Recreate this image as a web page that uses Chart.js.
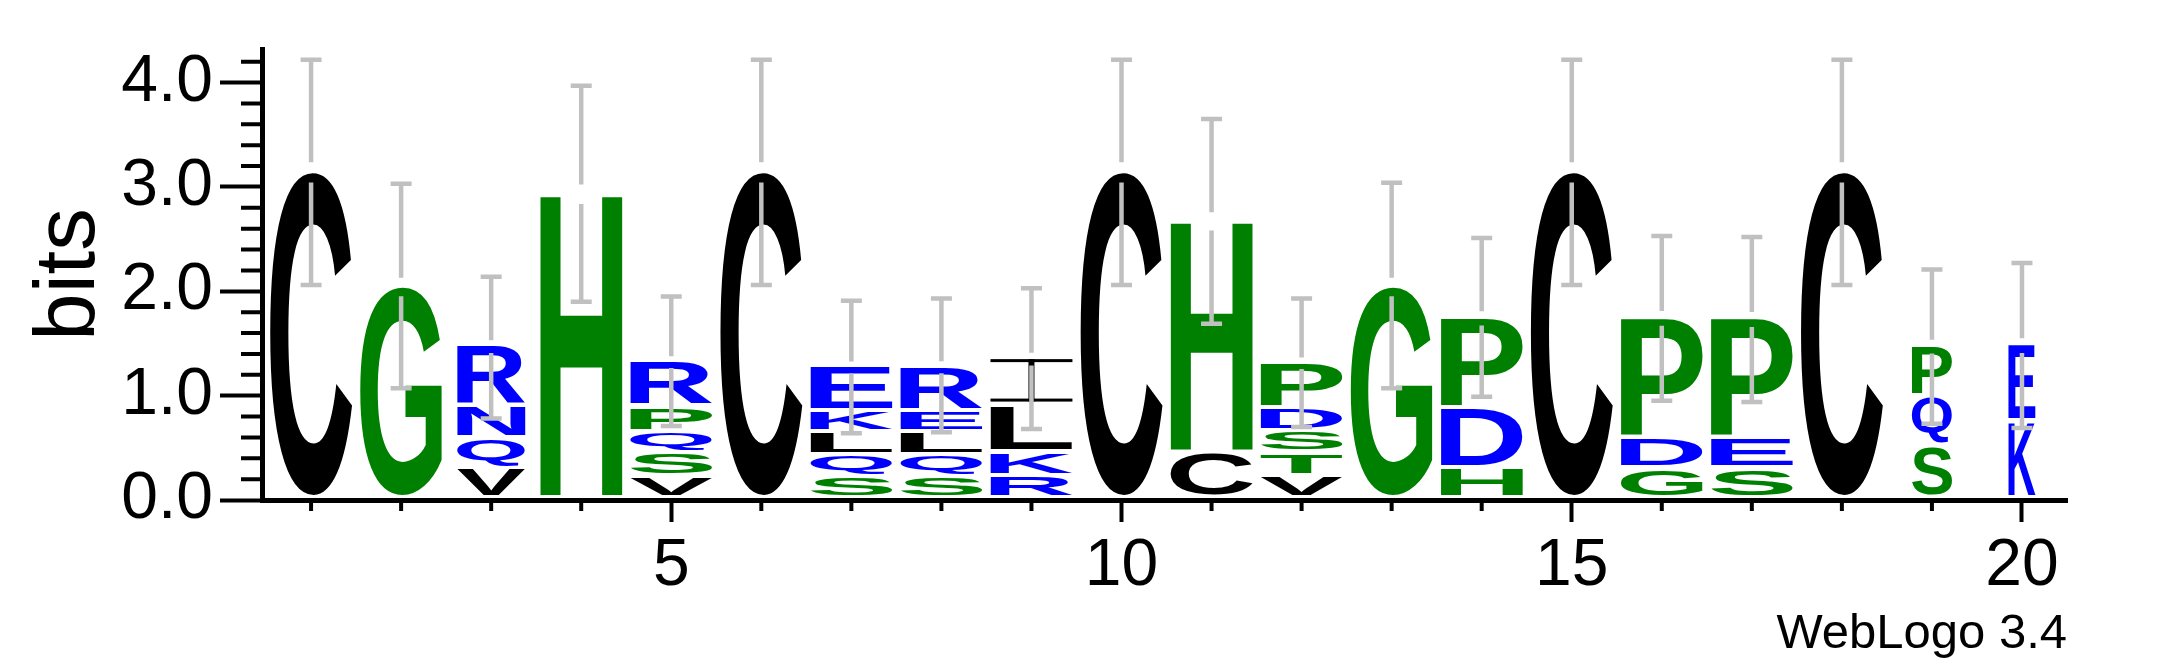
<!DOCTYPE html>
<html>
<head>
<meta charset="utf-8">
<script src="https://cdn.jsdelivr.net/npm/chart.js@4.4.1/dist/chart.umd.min.js"></script>
<style>
html, body { margin: 0; padding: 0; background: #ffffff; }
canvas { display: block; }
</style>
</head>
<body>
<canvas id="logo" width="2167" height="667"></canvas>
<script>
// ---- data (letters listed bottom -> top for each position) ----
const positions = [1, 2, 3, 4, 5, 6, 7, 8, 9, 10, 11, 12, 13, 14, 15, 16, 17, 18, 19, 20];
const stackLetters = [
  ['C'], ['G'], ['V', 'Q', 'N', 'R'], ['H'], ['V', 'S', 'Q', 'P', 'R'],
  ['C'], ['S', 'Q', 'L', 'K', 'E'], ['S', 'Q', 'L', 'E', 'R'], ['R', 'K', 'L', 'I'], ['C'],
  ['C', 'H'], ['V', 'T', 'S', 'D', 'P'], ['G'], ['H', 'D', 'P'], ['C'],
  ['G', 'D', 'P'], ['S', 'E', 'P'], ['C'], ['S', 'Q', 'P'], ['K', 'E']
];
const stackBits = [
  [3.14], [2.04], [0.29, 0.29, 0.31, 0.58], [2.93], [0.21, 0.23, 0.20, 0.24, 0.44],
  [3.14], [0.21, 0.21, 0.22, 0.20, 0.43], [0.21, 0.21, 0.22, 0.20, 0.43], [0.22, 0.23, 0.45, 0.45], [3.14],
  [0.44, 2.23], [0.22, 0.22, 0.21, 0.22, 0.44], [2.04], [0.29, 0.58, 0.87], [3.14],
  [0.29, 0.29, 1.16], [0.29, 0.29, 1.15], [3.14], [0.50, 0.48, 0.49], [0.74, 0.74]
];
const errorLow  = [2.06, 1.07, 0.78, 1.90, 0.71, 2.06, 0.64, 0.65, 0.68, 2.06, 1.69, 0.70, 1.07, 0.99, 2.06, 0.95, 0.94, 2.06, 0.73, 0.69];
const errorHigh = [4.22, 3.03, 2.14, 3.97, 1.95, 4.22, 1.91, 1.93, 2.03, 4.22, 3.65, 1.93, 3.04, 2.51, 4.22, 2.53, 2.52, 4.22, 2.21, 2.27];
const stackWidth = [1, 1, 0.83, 1, 1, 1, 1, 1, 1, 1, 1, 1, 1, 1, 1, 1, 1, 1, 0.49, 0.33];
const xTickValues = [1, 2, 3, 4, 5, 6, 7, 8, 9, 10, 11, 12, 13, 14, 15, 16, 17, 18, 19, 20];
const xMajorTicks = [5, 10, 15, 20];
const yTickValues = [0, 0.2, 0.4, 0.6, 0.8, 1, 1.2, 1.4, 1.6, 1.8, 2, 2.2, 2.4, 2.6, 2.8, 3, 3.2, 3.4, 3.6, 3.8, 4, 4.2];
const yMajorTicks = [0, 1, 2, 3, 4];
const yMax = 4.3219;

const letterColors = {
  C: '#000000', V: '#000000', L: '#000000', I: '#000000',
  G: '#008000', H: '#008000', P: '#008000', S: '#008000', T: '#008000',
  R: '#0000ff', N: '#0000ff', Q: '#0000ff', E: '#0000ff', K: '#0000ff', D: '#0000ff'
};

const FONT = '"Liberation Sans", Arial, Helvetica, sans-serif';
const depth = Math.max(...stackLetters.map(s => s.length));
const datasets = [];
for (let r = 0; r < depth; r++) {
  datasets.push({
    label: 'rank ' + (r + 1),
    backgroundColor: 'rgba(0,0,0,0)',
    borderColor: 'rgba(0,0,0,0)',
    borderWidth: 0,
    data: positions.map((p, i) => ({ x: p, y: stackBits[i][r] !== undefined ? stackBits[i][r] : 0 }))
  });
}

function drawGlyph(ctx, ch, left, top, w, h, color) {
  if (w <= 0 || h <= 0.5) return;
  ctx.save();
  ctx.fillStyle = color;
  if (ch === 'I') {
    const bar = 3;
    ctx.fillRect(left, top, w, bar);
    ctx.fillRect(left, top + h - bar, w, bar);
    ctx.fillRect(left + w / 2 - 3, top, 6, h);
  } else {
    ctx.font = 'bold 200px ' + FONT;
    ctx.textAlign = 'left';
    ctx.textBaseline = 'alphabetic';
    const m = ctx.measureText(ch);
    const gw = m.actualBoundingBoxLeft + m.actualBoundingBoxRight;
    const gh = m.actualBoundingBoxAscent + m.actualBoundingBoxDescent;
    ctx.translate(left, top);
    ctx.scale(w / gw, h / gh);
    ctx.fillText(ch, m.actualBoundingBoxLeft, m.actualBoundingBoxAscent);
  }
  ctx.restore();
}

const logoPlugin = {
  id: 'logoPlugin',
  afterDatasetsDraw(chart) {
    const ctx = chart.ctx;
    const glyphGap = 4.5;
    chart.data.datasets.forEach((ds, di) => {
      const meta = chart.getDatasetMeta(di);
      meta.data.forEach((bar, i) => {
        const ch = stackLetters[i][di];
        if (!ch) return;
        const p = bar.getProps(['x', 'y', 'base', 'width'], true);
        const w = p.width * stackWidth[i];
        const top = Math.min(p.y, p.base);
        const bottom = Math.max(p.y, p.base) - glyphGap;
        drawGlyph(ctx, ch, p.x - w / 2, top, w, bottom - top, letterColors[ch]);
      });
    });
    // error bars
    const xs = chart.scales.x, ys = chart.scales.y;
    ctx.save();
    ctx.strokeStyle = '#c0c0c0';
    ctx.lineWidth = 4.5;
    ctx.lineCap = 'butt';
    positions.forEach((pos, i) => {
      const cx = xs.getPixelForValue(pos);
      const total = stackBits[i].reduce((a, b) => a + b, 0);
      const yc = ys.getPixelForValue(total);
      const yt = ys.getPixelForValue(errorHigh[i]);
      const yb = ys.getPixelForValue(errorLow[i]);
      const gapT = (yc - yt) * 0.09;
      const gapB = (yb - yc) * 0.09;
      ctx.beginPath();
      ctx.moveTo(cx, yt); ctx.lineTo(cx, yc - gapT);
      ctx.moveTo(cx, yc + gapB); ctx.lineTo(cx, yb);
      ctx.moveTo(cx - 10.5, yt); ctx.lineTo(cx + 10.5, yt);
      ctx.moveTo(cx - 10.5, yb); ctx.lineTo(cx + 10.5, yb);
      ctx.stroke();
    });
    ctx.restore();
  },
  afterDraw(chart) {
    // minor tick marks
    const ctx = chart.ctx;
    const xs = chart.scales.x, ys = chart.scales.y;
    ctx.save();
    ctx.strokeStyle = '#000000';
    ctx.lineWidth = 4;
    ctx.beginPath();
    yTickValues.forEach(v => {
      if (yMajorTicks.includes(v)) return;
      const py = ys.getPixelForValue(v);
      ctx.moveTo(ys.right - 21, py); ctx.lineTo(ys.right - 2, py);
    });
    xTickValues.forEach(v => {
      if (xMajorTicks.includes(v)) return;
      const px = xs.getPixelForValue(v);
      ctx.moveTo(px, xs.top + 2); ctx.lineTo(px, xs.top + 11);
    });
    ctx.stroke();
    ctx.restore();
  }
};

new Chart(document.getElementById('logo'), {
  type: 'bar',
  data: { datasets },
  options: {
    responsive: false,
    animation: false,
    devicePixelRatio: 1,
    layout: { padding: { left: 0, right: 100, top: 49, bottom: 8 } },
    events: [],
    datasets: {
      bar: { categoryPercentage: 1, barPercentage: 0.91 }
    },
    plugins: {
      colors: { enabled: false },
      legend: { display: false },
      tooltip: { enabled: false },
      title: {
        display: true, text: 'WebLogo 3.4', position: 'bottom', align: 'end', color: '#000000',
        font: { family: FONT, size: 49, weight: 'normal', lineHeight: 1 }, padding: 0
      }
    },
    scales: {
      x: {
        type: 'linear', min: 0.455, max: 20.5, offset: false, stacked: true,
        afterBuildTicks: s => { s.ticks = xTickValues.map(v => ({ value: v })); },
        afterFit: s => { s.height = 110; },
        ticks: {
          autoSkip: false, maxRotation: 0, minRotation: 0, padding: 12, color: '#000000',
          font: { family: FONT, size: 66, lineHeight: 1 },
          callback: v => xMajorTicks.includes(v) ? String(v) : ''
        },
        grid: {
          display: true, drawOnChartArea: false, drawTicks: true, offset: false,
          tickLength: 22, tickWidth: 4,
          tickColor: c => (c.tick && xMajorTicks.includes(c.tick.value)) ? '#000000' : 'rgba(0,0,0,0)'
        },
        border: { display: true, width: 5, color: '#000000' }
      },
      y: {
        type: 'linear', min: 0, max: yMax, stacked: true,
        afterBuildTicks: s => { s.ticks = yTickValues.map(v => ({ value: v })); },
        afterFit: s => { s.width = 262; },
        ticks: {
          autoSkip: false, padding: 7, color: '#000000',
          font: { family: FONT, size: 66, lineHeight: 1 },
          callback: v => yMajorTicks.includes(v) ? v.toFixed(1) : ''
        },
        grid: {
          display: true, drawOnChartArea: false, drawTicks: true,
          tickLength: 42, tickWidth: 4,
          tickColor: c => (c.tick && yMajorTicks.includes(c.tick.value)) ? '#000000' : 'rgba(0,0,0,0)'
        },
        border: { display: true, width: 5, color: '#000000' },
        title: {
          display: true, text: 'bits', color: '#000000',
          font: { family: FONT, size: 85, weight: 'normal', lineHeight: 1 },
          padding: { top: 28, bottom: 0 }
        }
      }
    }
  },
  plugins: [logoPlugin]
});
</script>
</body>
</html>
